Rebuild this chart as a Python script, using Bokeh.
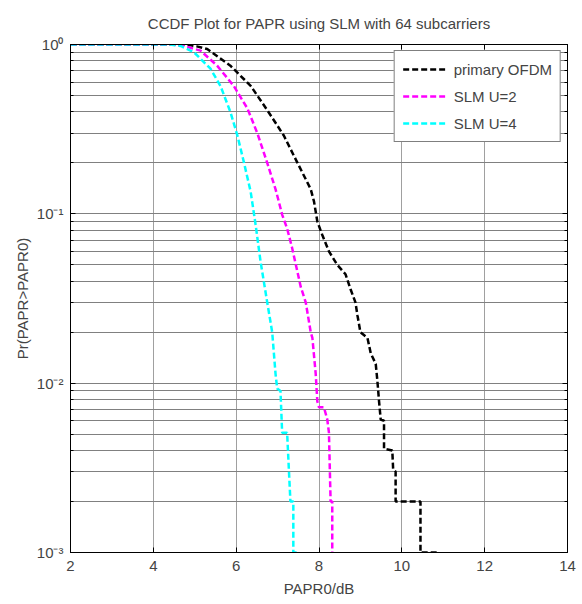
from bokeh.plotting import figure
from bokeh.models import (FixedTicker, LinearAxis, LogAxis, Legend, LegendItem,
                          CustomJSTickFormatter)
from bokeh.embed import file_html
from bokeh.resources import INLINE

title_text = "CCDF Plot for PAPR using SLM with 64 subcarriers"
x_label = "PAPR0/dB"
y_label = "Pr(PAPR>PAPR0)"
x_ticks = [2, 4, 6, 8, 10, 12, 14]
y_major = [1e-3, 1e-2, 1e-1, 1.0]
y_tick_labels = ["10\u207b\u00b3", "10\u207b\u00b2", "10\u207b\u00b9", "10\u2070"]
y_minor = [m * 10.0 ** e for e in (-3, -2, -1) for m in range(2, 10)]

names = ["primary OFDM", "SLM U=2", "SLM U=4"]
colors = ["#000000", "#ff00ff", "#00ffff"]

black_x = [2, 4.6, 4.90, 5.05, 5.30, 5.86, 6.35, 6.75, 7.15, 7.48, 7.80, 7.88, 7.96, 8.08, 8.24, 8.44,
           8.64, 8.76, 8.88, 8.93, 9.00, 9.17, 9.25, 9.37, 9.41, 9.45, 9.49, 9.57, 9.57, 9.77,
           9.79, 9.85, 9.85, 10.45, 10.45, 10.86]
black_y = [1, 1, 0.99, 0.975, 0.94, 0.75, 0.57, 0.41, 0.29, 0.20, 0.14, 0.118, 0.090, 0.075, 0.060, 0.050,
           0.044, 0.036, 0.030, 0.025, 0.020, 0.0185, 0.015, 0.013, 0.0103, 0.0078, 0.0061, 0.006,
           0.0041, 0.004, 0.0031, 0.003, 0.002, 0.002, 0.001, 0.001]

mag_x = [2, 4.45, 4.74, 5.14, 5.54, 5.94, 6.27, 6.51, 6.75, 6.95, 7.03, 7.11, 7.23, 7.35, 7.56,
         7.68, 7.80, 7.84, 7.92, 7.96, 8.00, 8.12, 8.20, 8.24, 8.28, 8.32, 8.32]
mag_y = [1, 1, 0.98, 0.92, 0.75, 0.57, 0.42, 0.30, 0.20, 0.14, 0.118, 0.099, 0.082, 0.063, 0.037,
         0.030, 0.020, 0.0185, 0.0114, 0.0078, 0.0072, 0.0072, 0.0061, 0.0051, 0.002, 0.002, 0.001]

cyan_x = [2, 4.4, 4.66, 4.98, 5.38, 5.62, 5.86, 6.03, 6.19, 6.35, 6.47, 6.59, 6.75, 6.87, 6.95,
          6.99, 7.07, 7.11, 7.23, 7.31, 7.38, 7.38, 7.48]
cyan_y = [1, 1, 0.98, 0.90, 0.72, 0.57, 0.40, 0.29, 0.20, 0.135, 0.086, 0.052, 0.030, 0.020, 0.0114,
          0.0093, 0.009, 0.0051, 0.0051, 0.002, 0.002, 0.001, 0.001]

FONT = "Liberation Sans"

p = figure(width=578, height=600, x_range=(2, 14), y_range=(1e-3, 1), y_axis_type="log",
           output_backend="svg", toolbar_location=None,
           min_border_left=70, min_border_right=11, min_border_top=42, min_border_bottom=48)

p.title.text = title_text
p.title.text_font = FONT
p.title.text_font_size = "15px"
p.title.text_font_style = "normal"
p.title.align = "center"
p.title.standoff = 25

p.outline_line_color = "black"
p.outline_line_width = 1
p.background_fill_color = "white"
p.border_fill_color = "white"

# bottom axis
xa = p.xaxis[0]
xa.ticker = FixedTicker(ticks=x_ticks)
xa.axis_label = x_label
xa.axis_label_text_font = FONT
xa.axis_label_text_font_size = "15px"
xa.axis_label_text_font_style = "normal"
xa.axis_label_standoff = 6
xa.major_label_text_font = FONT
xa.major_label_text_font_size = "15px"
xa.major_label_standoff = 8
xa.major_tick_in = 5
xa.major_tick_out = 0
xa.minor_tick_line_color = None
xa.axis_line_color = "black"

# left axis
ya = p.yaxis[0]
ya.ticker = FixedTicker(ticks=y_major, minor_ticks=y_minor)
ya.formatter = CustomJSTickFormatter(args=dict(vals=y_major, labs=y_tick_labels), code="""
    let best = 0;
    for (let i = 0; i < vals.length; i++) {
        if (Math.abs(Math.log10(vals[i]) - Math.log10(tick)) <
            Math.abs(Math.log10(vals[best]) - Math.log10(tick))) { best = i; }
    }
    return labs[best];
""")
ya.major_label_text_font = FONT
ya.major_label_text_font_size = "15px"
ya.major_label_standoff = 7
ya.axis_label = y_label
ya.axis_label_text_font = FONT
ya.axis_label_text_font_size = "15px"
ya.axis_label_text_font_style = "normal"
ya.axis_label_standoff = 3
ya.major_tick_in = 5
ya.major_tick_out = 0
ya.minor_tick_in = 3
ya.minor_tick_out = 0
ya.axis_line_color = "black"

# top and right axes (ticks only)
top = LinearAxis(ticker=FixedTicker(ticks=x_ticks), major_label_text_color=None,
                 major_label_text_font_size="1px", major_label_standoff=0,
                 major_tick_in=5, major_tick_out=0, minor_tick_line_color=None)
p.add_layout(top, "above")
right = LogAxis(ticker=FixedTicker(ticks=y_major, minor_ticks=y_minor), major_label_text_color=None,
                major_label_text_font_size="1px", major_label_standoff=0,
                major_tick_in=5, major_tick_out=0, minor_tick_in=3, minor_tick_out=0)
p.add_layout(right, "right")

# grids
p.xgrid.ticker = FixedTicker(ticks=x_ticks)
p.xgrid.grid_line_color = "#a0a0a0"
p.xgrid.grid_line_width = 1
p.ygrid.ticker = FixedTicker(ticks=y_major, minor_ticks=y_minor)
p.ygrid.grid_line_color = "#808080"
p.ygrid.grid_line_width = 1
p.ygrid.minor_grid_line_color = "#808080"
p.ygrid.minor_grid_line_width = 1

series = [(black_x, black_y), (mag_x, mag_y), (cyan_x, cyan_y)]
items = []
for (xs, ys), c, n in zip(series, colors, names):
    r = p.line(xs, ys, line_color=c, line_width=2.5, line_dash="6 3")
    items.append(LegendItem(label=n, renderers=[r]))

legend = Legend(items=items, location="top_right")
legend.label_text_font = FONT
legend.label_text_font_size = "15px"
legend.glyph_width = 43
legend.glyph_height = 20
legend.label_standoff = 8
legend.padding = 8
legend.spacing = 7
legend.margin = 6
legend.border_line_color = "black"
legend.border_line_width = 1
legend.background_fill_alpha = 1
p.add_layout(legend)

open("out.html", "w").write(file_html(p, INLINE))
